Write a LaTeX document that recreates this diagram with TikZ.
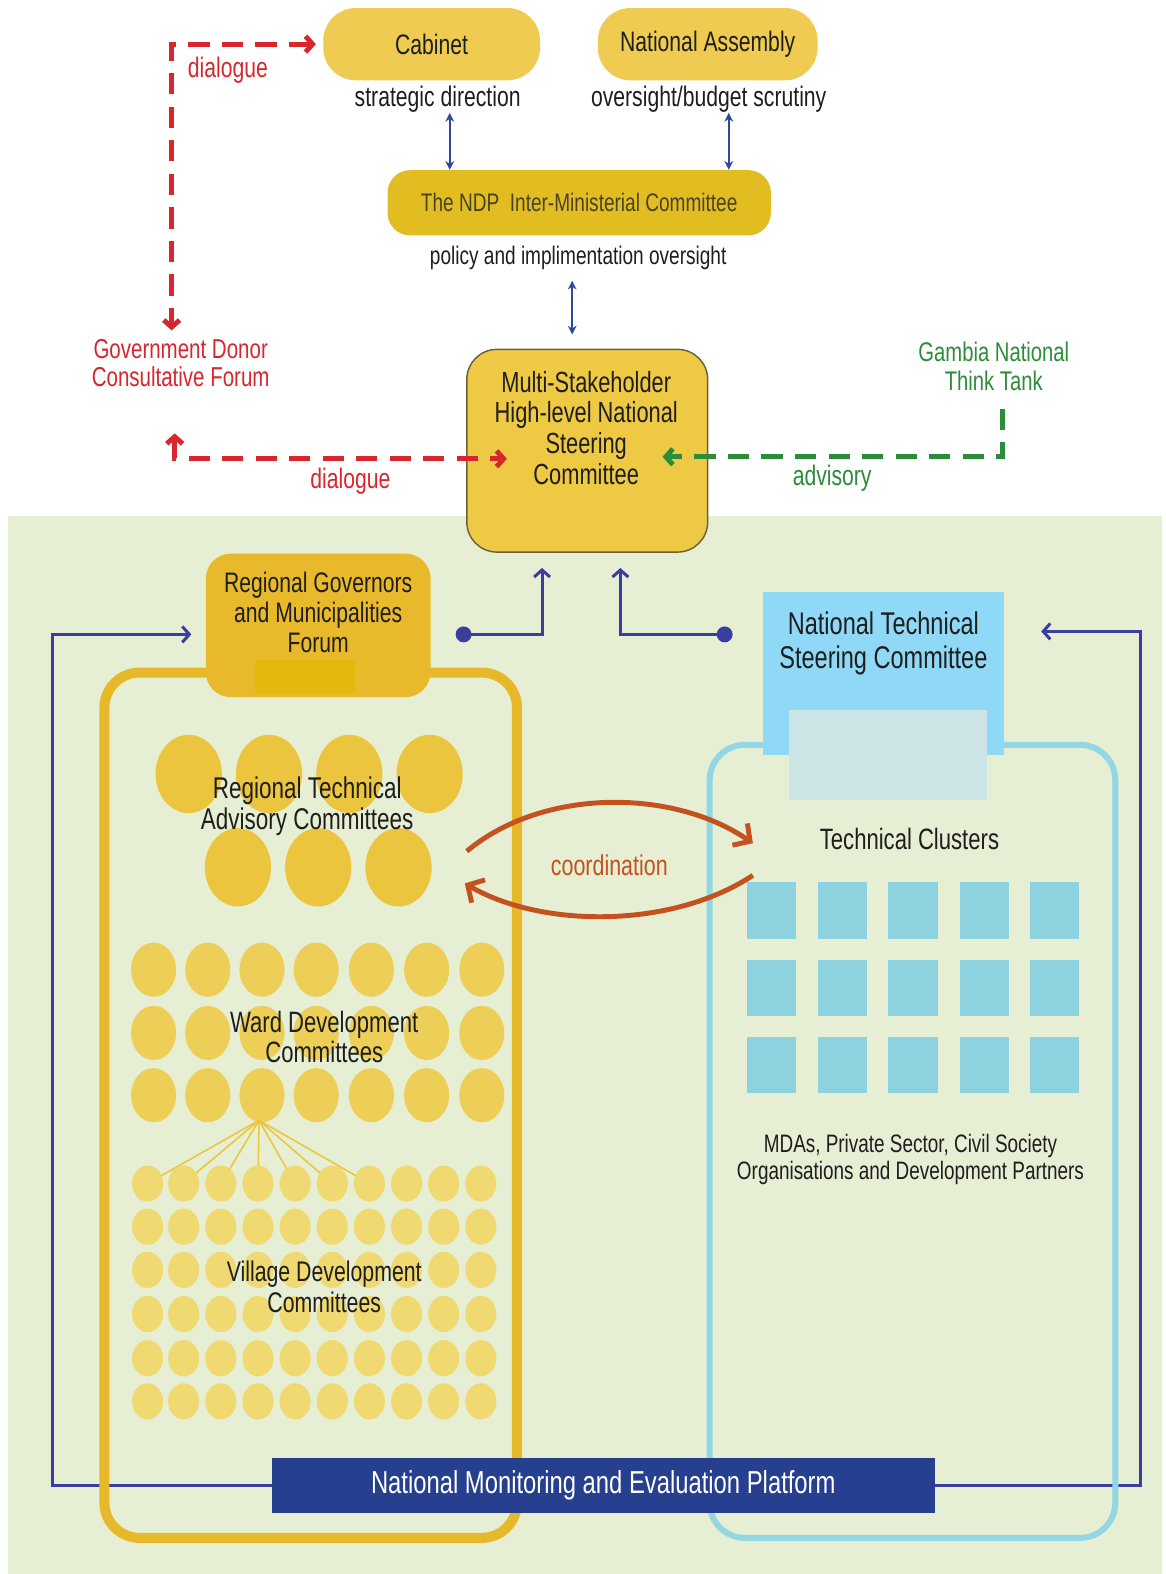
\documentclass[tikz,border=0pt]{standalone}
\usepackage{fontspec}
\setmainfont{Liberation Sans}[FakeStretch=0.75]
\usetikzlibrary{arrows.meta,backgrounds}

\definecolor{bggreen}{HTML}{E6EFD4}
\definecolor{cabyel}{HTML}{EFCB52}
\definecolor{ndpyel}{HTML}{E2BD22}
\definecolor{ndptxt}{HTML}{4A4228}
\definecolor{mscyel}{HTML}{EDC944}
\definecolor{mscedge}{HTML}{6B5E3A}
\definecolor{rgfyel}{HTML}{E8BA2B}
\definecolor{rgfin}{HTML}{E4B80C}
\definecolor{orng}{HTML}{E7B92A}
\definecolor{rtacyel}{HTML}{EBC53E}
\definecolor{wardyel}{HTML}{EDCF58}
\definecolor{vilyel}{HTML}{EFD970}
\definecolor{ntscblue}{HTML}{8FD9F7}
\definecolor{ntscin}{HTML}{CEE5E8}
\definecolor{lbedge}{HTML}{93D6E4}
\definecolor{clublue}{HTML}{8DD3DF}
\definecolor{mepblue}{HTML}{26408F}
\definecolor{loopblue}{HTML}{3A3E9E}
\definecolor{arrblue}{HTML}{2C48A0}
\definecolor{dlgred}{HTML}{D9262E}
\definecolor{advgreen}{HTML}{2D8C3A}
\definecolor{coordbrown}{HTML}{C4521E}
\definecolor{txtdark}{HTML}{1E1E1E}

\tikzset{
  lbl/.style={inner sep=0pt, align=center, text=txtdark, font=\fontsize{16}{17}\selectfont},
  topbox/.style={lbl, fill=cabyel, rounded corners=0.65cm, minimum width=4.32cm, minimum height=1.44cm},
  ndpbox/.style={lbl, fill=ndpyel, rounded corners=0.45cm, minimum width=7.64cm, minimum height=1.3cm,
    text=ndptxt, font=\fontsize{14.4}{16}\selectfont},
  mscbox/.style={fill=mscyel, draw=mscedge, line width=0.8pt, rounded corners=0.6cm,
    minimum width=4.8cm, minimum height=4.04cm},
  rgfbox/.style={fill=rgfyel, rounded corners=0.5cm, minimum width=4.48cm, minimum height=2.86cm},
  ntscbox/.style={fill=ntscblue, minimum width=4.8cm, minimum height=3.24cm},
  mepbox/.style={lbl, fill=mepblue, text=white, minimum width=13.2cm, minimum height=1.1cm,
    font=\fontsize{18}{19}\selectfont},
  dlgline/.style={dlgred, line width=2.8pt, dash pattern=on 12pt off 7pt,
    >={Straight Barb[length=4pt,width=9pt]}},
  advline/.style={advgreen, line width=2.8pt, dash pattern=on 12pt off 7pt,
    >={Straight Barb[length=4pt,width=9pt]}},
  barr/.style={arrblue, line width=1pt, <->, >={Stealth[length=5pt,width=5pt]}},
  loopline/.style={loopblue, line width=1.7pt, >={Straight Barb[length=4pt,width=9pt]}},
  coordarr/.style={coordbrown, line width=2.8pt, -{Straight Barb[length=7pt,width=15pt]}},
}

\begin{document}
\begin{tikzpicture}[x=0.02cm,y=-0.02cm]
\useasboundingbox (0,0) rectangle (1161,1568);

% top level
\node[topbox] (cab) at (430,44) {Cabinet};
\node[topbox,minimum width=4.38cm] (nass) at (705,44) {National Assembly};
\node[lbl] (sdir) at (436,99) {strategic direction};
\node[lbl] (obud) at (706,99) {oversight/budget scrutiny};
\node[ndpbox] (ndp) at (577,202) {The NDP\ \ Inter-Ministerial Committee};
\node[lbl,font=\fontsize{14.4}{16}\selectfont] (pol) at (576,257) {policy and implimentation oversight};

\node[mscbox] (msc) at (585,449) {};
\node[lbl,font=\fontsize{16.5}{17.4}\selectfont] (msctxt) at (584,426)
  {Multi-Stakeholder\\High-level National\\Steering\\Committee};

\draw[barr] (sdir.south -| 448,0) -- (ndp.north -| 448,0);
\draw[barr] (obud.south -| 726,0) -- (ndp.north -| 726,0);
\draw[barr,shorten <=6pt,shorten >=8pt] (pol.south -| 570,0) -- (msc.north -| 570,0);

% dialogue / advisory
\node[lbl,text=dlgred,font=\fontsize{15.5}{16}\selectfont,inner sep=5pt] (gdcf) at (180,362)
  {Government Donor\\Consultative Forum};
\node[lbl,text=advgreen,font=\fontsize{15.3}{16.5}\selectfont,inner sep=5pt] (ttank) at (990,365)
  {Gambia National\\Think Tank};
\coordinate (dlgEnd) at (505,457);
\coordinate (advEnd) at (660,455);
\draw[dlgline,<->,shorten <=4pt] (cab.west) -| (gdcf.north -| 171,0);
\draw[dlgline,<->,shorten <=21pt] (gdcf.south -| 174,0) |- (dlgEnd);
\draw[advline,->,shorten <=5pt] (ttank.south -| 999,0) |- (advEnd);
\node[lbl,text=dlgred] (dlg1) at (227,70) {dialogue};
\node[lbl,text=dlgred] (dlg2) at (349,479) {dialogue};
\node[lbl,text=advgreen] (adv) at (829,476) {advisory};

% regional side
\node[rgfbox] (rgf) at (317,623) {};
\fill[rgfin] (254,657) rectangle (354,690);
\node[lbl] (rgftxt) at (317,610) {Regional Governors\\and Municipalities\\Forum};

\foreach \x in {188,268,348,428}
  \fill[rtacyel] (\x,771) ellipse [x radius=0.66cm, y radius=0.78cm];
\foreach \x in {237,317,397}
  \fill[rtacyel] (\x,864) ellipse [x radius=0.66cm, y radius=0.78cm];
\node[lbl,font=\fontsize{17}{17.2}\selectfont] (rtac) at (306,803) {Regional Technical\\Advisory Committees};

\foreach \y in {966,1029,1091}
  \foreach \x in {153,207,261,315,370,425,480}
    \fill[wardyel] (\x,\y) ellipse [x radius=0.45cm, y radius=0.54cm];
\foreach \x in {147,183,220,257,294,331,368}
  \draw[rtacyel,line width=0.9pt] (258,1116) -- (\x,1179);
\foreach \y in {1179,1222,1265,1309,1353,1396}
  \foreach \x in {147,183,220,257,294,331,368,405,442,479}
    \fill[vilyel] (\x,\y) ellipse [x radius=0.31cm, y radius=0.36cm];
\node[lbl,font=\fontsize{16.7}{17.5}\selectfont] (ward) at (323,1033) {Ward Development\\Committees};
\node[lbl,font=\fontsize{16.1}{17.5}\selectfont] (vdc) at (323,1282) {Village Development\\Committees};

% technical side
\node[ntscbox] (ntsc) at (880,671) {};
\fill[ntscin] (786,707) rectangle (983,797);
\node[lbl,font=\fontsize{17.8}{18.8}\selectfont] (ntsctxt) at (880,641) {National Technical\\Steering Committee};
\node[lbl,font=\fontsize{16.7}{17}\selectfont] (tclu) at (906,836) {Technical Clusters};
\foreach \x in {744,815,885,956,1026}
  \foreach \y in {879,956,1033}
    \fill[clublue] (\x,\y) rectangle ++(49,56);
\node[lbl,font=\fontsize{14.3}{15.3}\selectfont] (mdas) at (907,1155)
  {MDAs, Private Sector, Civil Society\\Organisations and Development Partners};

% coordination
\coordinate (cL1) at (465,848);
\coordinate (cR1) at (750,840);
\coordinate (cR2) at (750,872);
\coordinate (cL2) at (463,880);
\draw[coordarr] (cL1) .. controls (540,785) and (670,785) .. (cR1);
\draw[coordarr] (cR2) .. controls (670,925) and (540,925) .. (cL2);
\node[lbl,text=coordbrown,font=\fontsize{16.2}{17}\selectfont] (coord) at (607,862) {coordination};

\node[mepbox] (mep) at (601,1480) {National Monitoring and Evaluation Platform};

% links up to the steering committee
\coordinate (lpt) at (52,632);
\coordinate (rpt) at (1136,629);
\coordinate (mscL) at (540,550);
\coordinate (mscR) at (618,550);
\draw[loopline,{Circle[length=9pt]}-{Straight Barb[length=4pt,width=9pt]},shorten <=14pt,shorten >=9pt]
  (rgf.east |- lpt) -| (mscL);
\draw[loopline,{Circle[length=9pt]}-{Straight Barb[length=4pt,width=9pt]},shorten <=17pt,shorten >=9pt]
  (ntsc.west |- lpt) -| (mscR);

\begin{pgfonlayer}{background}
  \fill[bggreen] (8,514) rectangle (1158,1568);
  \draw[loopline,->,shorten >=8pt] (mep.west) -| (lpt) -- (rgf.west |- lpt);
  \draw[loopline,->,shorten >=21pt] (mep.east) -| (rpt) -- (ntsc.east |- rpt);
  \draw[orng,line width=5.7pt,rounded corners=0.7cm] (104,670) rectangle (515,1532);
  \draw[lbedge,line width=3.4pt,rounded corners=0.7cm] (707,742) rectangle (1111,1532);
\end{pgfonlayer}
\end{tikzpicture}
\end{document}
